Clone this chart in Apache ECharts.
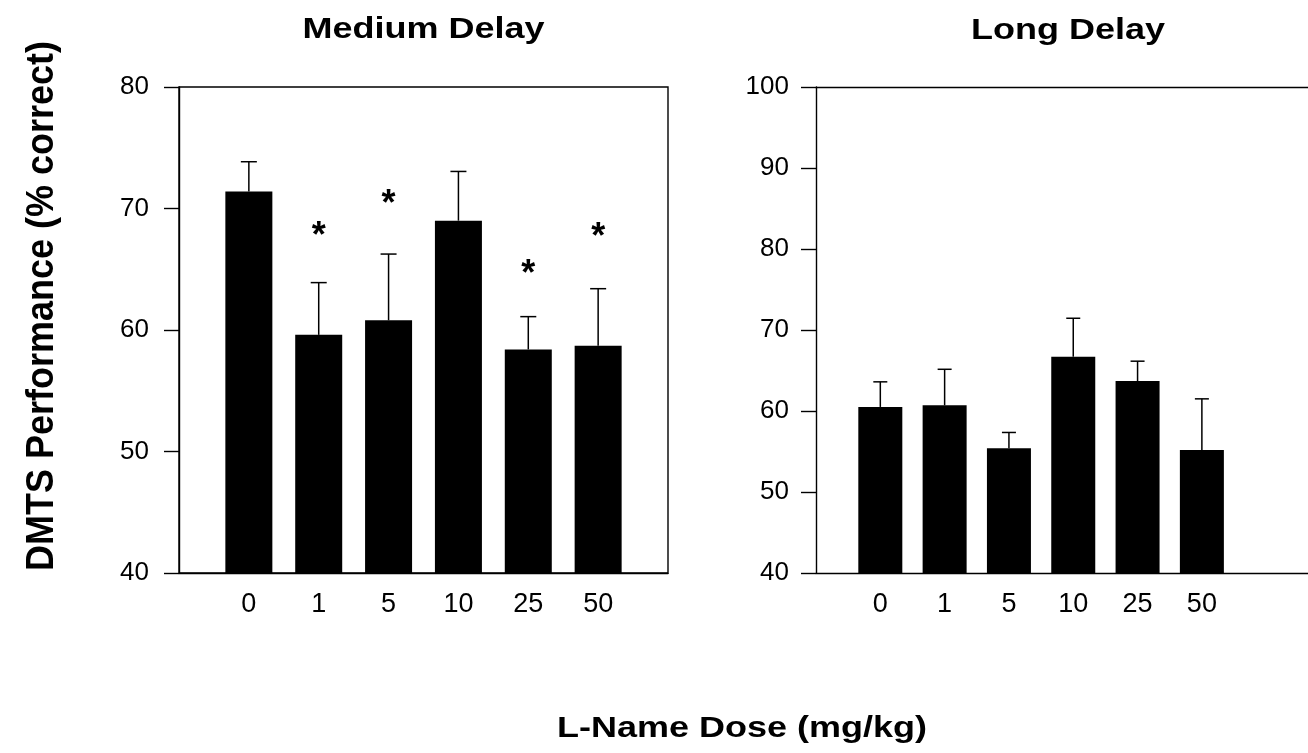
<!DOCTYPE html>
<html><head><meta charset="utf-8">
<script src="https://cdn.jsdelivr.net/npm/echarts@6/dist/echarts.min.js"></script>
<style>html,body{margin:0;padding:0;background:#fff}#c{width:1308px;height:753px}</style>
</head><body><div id="c"></div>
<script>
// ---- data ----
const doses = ['0', '1', '5', '10', '25', '50'];
const mediumMean = [71.4, 59.6, 60.8, 69.0, 58.4, 58.7];
const mediumSem = [2.45, 4.3, 5.45, 4.05, 2.7, 4.7];
const mediumStars = [null, 68.3, 70.9, null, 65.2, 68.2];
const longMean = [60.5, 60.7, 55.4, 66.7, 63.7, 55.2];
const longSem = [3.1, 4.45, 1.95, 4.75, 2.45, 6.3];
const mediumTicks = [40, 80, 10];
const longTicks = [40, 100, 10];

const FONT = '"Liberation Sans", Arial, Helvetica, sans-serif';
const chart = echarts.init(document.getElementById('c'));

function barSeries(idx, means, w) {
  return { type: 'bar', xAxisIndex: idx, yAxisIndex: idx, barWidth: w,
    data: means.map((m, i) => [i + 1, m]), itemStyle: { color: '#000' }, z: 2, silent: true };
}
function errSeries(idx, means, sems, cap) {
  return { type: 'custom', xAxisIndex: idx, yAxisIndex: idx, z: 3, silent: true,
    data: means.map((m, i) => [i + 1, m, m + sems[i]]),
    renderItem: (params, api) => {
      const p0 = api.coord([api.value(0), api.value(1)]);
      const p1 = api.coord([api.value(0), api.value(2)]);
      return { type: 'group', children: [
        { type: 'line', shape: { x1: p0[0], y1: p0[1], x2: p1[0], y2: p1[1] }, style: { stroke: '#000', lineWidth: 1.5 } },
        { type: 'line', shape: { x1: p1[0] - cap / 2, y1: p1[1], x2: p1[0] + cap / 2, y2: p1[1] }, style: { stroke: '#000', lineWidth: 1.5 } }
      ] };
    } };
}
function starSeries(idx, stars) {
  const d = [];
  stars.forEach((s, i) => { if (s !== null) d.push([i + 1, s]); });
  return { type: 'custom', xAxisIndex: idx, yAxisIndex: idx, z: 4, silent: true, data: d,
    renderItem: (params, api) => {
      const p = api.coord([api.value(0), api.value(1)]);
      return { type: 'text', x: p[0], y: p[1] + 8,
        style: { text: '*', font: 'bold 36px ' + FONT, fill: '#000', align: 'center', verticalAlign: 'middle', textAlign: 'center', textVerticalAlign: 'middle' } };
    } };
}
function xAxis(idx, max) {
  return { type: 'value', gridIndex: idx, min: 0, max: max, interval: 1,
    axisLine: { show: true, lineStyle: { color: '#000', width: 1.4 } },
    axisTick: { show: false }, splitLine: { show: false },
    axisLabel: { color: '#000', fontFamily: FONT, fontSize: 27, margin: 18, showMaxLabel: false, showMinLabel: false,
      formatter: v => (Number.isInteger(v) && v >= 1 && v <= doses.length) ? doses[v - 1] : '' } };
}
function yAxis(idx, t, margin) {
  return { type: 'value', gridIndex: idx, min: t[0], max: t[1], interval: t[2],
    axisLine: { show: true, lineStyle: { color: '#000', width: 1.4 } },
    axisTick: { show: true, inside: false, length: 15, lineStyle: { color: '#000', width: 1.4 } },
    splitLine: { show: false },
    axisLabel: { color: '#000', fontFamily: FONT, fontSize: 26, margin: margin } };
}

const option = {
  backgroundColor: '#fff',
  animation: false,
  grid: [
    { left: 179, top: 87, width: 489, height: 486, show: true, borderColor: '#000', borderWidth: 1.4, backgroundColor: 'transparent' },
    { left: 816, top: 87, width: 492, height: 486, show: false }
  ],
  xAxis: [
    xAxis(0, 7),
    xAxis(1, 7.65),
    { type: 'value', gridIndex: 1, position: 'top', min: 0, max: 7.65, interval: 1,
      axisLine: { show: true, lineStyle: { color: '#000', width: 1.4 } },
      axisTick: { show: false }, axisLabel: { show: false }, splitLine: { show: false } }
  ],
  yAxis: [yAxis(0, mediumTicks, 30), yAxis(1, longTicks, 27)],
  series: [
    barSeries(0, mediumMean, 47), errSeries(0, mediumMean, mediumSem, 16), starSeries(0, mediumStars),
    barSeries(1, longMean, 44), errSeries(1, longMean, longSem, 14)
  ],
  graphic: [
    { type: 'text', x: 423.5, y: 29.5, scaleX: 1.2, style: { text: 'Medium Delay', font: 'bold 30px ' + FONT, fill: '#000', textAlign: 'center', textVerticalAlign: 'middle', align: 'center', verticalAlign: 'middle' } },
    { type: 'text', x: 1068, y: 30.5, scaleX: 1.2, style: { text: 'Long Delay', font: 'bold 30px ' + FONT, fill: '#000', textAlign: 'center', textVerticalAlign: 'middle', align: 'center', verticalAlign: 'middle' } },
    { type: 'text', x: 742, y: 729, scaleX: 1.2, style: { text: 'L-Name Dose (mg/kg)', font: 'bold 30px ' + FONT, fill: '#000', textAlign: 'center', textVerticalAlign: 'middle', align: 'center', verticalAlign: 'middle' } },
    { type: 'text', x: 42, y: 306, rotation: Math.PI / 2, scaleY: 1.1, style: { text: 'DMTS Performance (% correct)', font: 'bold 36px ' + FONT, fill: '#000', textAlign: 'center', textVerticalAlign: 'middle', align: 'center', verticalAlign: 'middle' } }
  ]
};
chart.setOption(option);
</script>
</body></html>
